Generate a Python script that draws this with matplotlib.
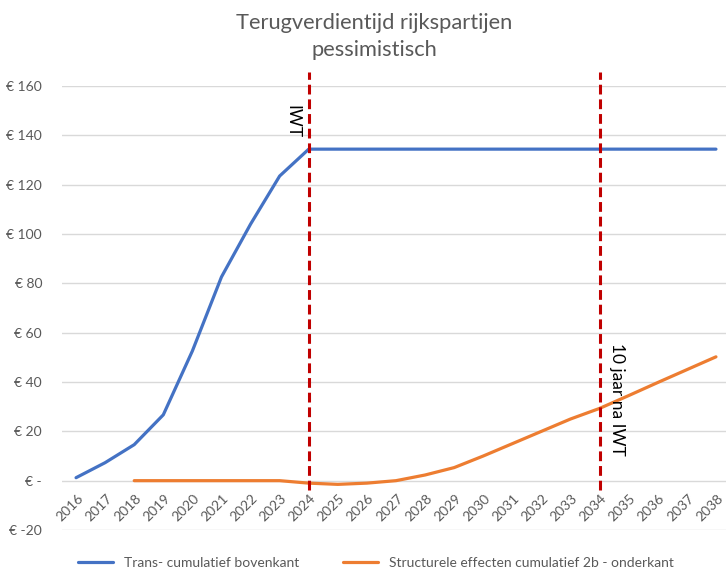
import matplotlib.pyplot as plt

jaren = list(range(2016, 2039))
trans_bovenkant = [1.2, 7.3, 14.6, 26.7, 52.6, 82.6, 104, 123.5, 134.4,
                   134.4, 134.4, 134.4, 134.4, 134.4, 134.4, 134.4, 134.4,
                   134.4, 134.4, 134.4, 134.4, 134.4, 134.4]
jaren_struct = list(range(2018, 2039))
structureel_onderkant = [0, 0, 0, 0, 0, 0, -1.0, -1.5, -1.0, 0, 2.3, 5.3,
                         10, 15, 20, 25, 29.3, 34.5, 39.8, 45, 50.2]
y_ticks = [-20, 0, 20, 40, 60, 80, 100, 120, 140, 160]
y_labels = ["€ -20", "€ -", "€ 20", "€ 40", "€ 60", "€ 80", "€ 100", "€ 120", "€ 140", "€ 160"]

plt.rcParams['font.family'] = ['Lato', 'DejaVu Sans']
grijs = '#595959'

fig = plt.figure(figsize=(7.26, 5.7), dpi=100)
ax = fig.add_axes([61.5 / 726, 1 - 530 / 570, 669 / 726, 444 / 570])

ax.plot(jaren, trans_bovenkant, color='#4472C4', lw=2.3, solid_capstyle='round',
        label='Trans- cumulatief bovenkant')
ax.plot(jaren_struct, structureel_onderkant, color='#ED7D31', lw=2.3, solid_capstyle='round',
        label='Structurele effecten cumulatief 2b - onderkant')

ax.set_xlim(2015.5, 2038.5)
ax.set_ylim(-20, 160)
ax.set_yticks(y_ticks)
ax.set_yticklabels(y_labels, color=grijs, fontsize=10)
ax.yaxis.grid(True, color='#D9D9D9', lw=1)
ax.set_axisbelow(True)
ax.tick_params(axis='y', length=0, pad=14)

# categorie-labels onder de nul-lijn
ax.set_xticks([])
for j in jaren:
    ax.annotate(str(j), (j, 0), xytext=(0.5, -8), textcoords='offset points',
                rotation=45, ha='right', va='top', rotation_mode='anchor',
                fontsize=10, color=grijs, annotation_clip=False)

for s in ax.spines.values():
    s.set_visible(False)

# rode verticale markeringen
for jaar in (2024, 2034):
    ax.plot([jaar, jaar], [-3.6, 165.5], color='#C00000', lw=2.2,
            ls=(0, (3.2, 1.6)), clip_on=False)
ax.text(2023.45, 145.7, "IWT", rotation=270, ha='center', va='center', fontsize=12.5)
ax.text(2034.6, 56, "10 jaar na IWT", rotation=270, ha='center', va='top', fontsize=12.5)

# titel: lettergrootte zo kiezen dat de breedte overeenkomt met het origineel (~278 px)
t1 = fig.text(374 / 726, 1 - 23 / 570, "Terugverdientijd rijkspartijen", ha='center',
              va='center', fontsize=14, color=grijs)
t2 = fig.text(374 / 726, 1 - 50 / 570, "pessimistisch", ha='center', va='center',
              fontsize=14, color=grijs)
fig.canvas.draw()
fs = 14 * 278 / t1.get_window_extent().width
t1.set_fontsize(fs)
t2.set_fontsize(fs)

fig.legend(loc='center', bbox_to_anchor=(376 / 726, 1 - 563 / 570), ncol=2, frameon=False,
           fontsize=10, labelcolor=grijs, handlelength=2.5, columnspacing=3.2)

fig.savefig('out.png', dpi=100)
